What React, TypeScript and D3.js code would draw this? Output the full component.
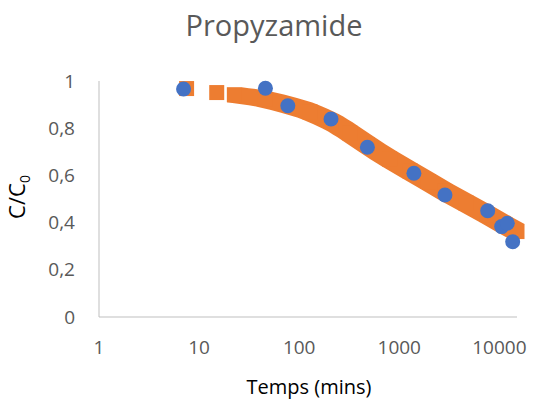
import * as d3 from "d3";

// modele (carres orange) et mesures (points bleus)
const modelTime = [
  7.5, 15, 22.5, 46, 80, 128, 208, 320, 475, 800, 1280, 1940, 2860, 4640, 7500,
  11400, 15000,
];
const modelValue = [
  0.968, 0.951, 0.942, 0.922, 0.896, 0.869, 0.828, 0.78, 0.731, 0.669, 0.619,
  0.574, 0.532, 0.483, 0.434, 0.39, 0.362,
];

const measTime = [7, 46, 77, 208, 480, 1400, 2860, 7640, 10540, 12000, 13580];
const measValue = [0.966, 0.969, 0.895, 0.839, 0.719, 0.609, 0.517, 0.45, 0.383, 0.397, 0.319];

const xTicks = [1, 10, 100, 1000, 10000];
const yTicks = [0, 0.2, 0.4, 0.6, 0.8, 1];

const width = 533;
const height = 405;
const font = "'Open Sans', sans-serif";

export default function App() {
  const x = d3.scaleLog().domain([1, 15000]).range([99, 517]);
  const y = d3.scaleLinear().domain([0, 1]).range([317, 81]);

  const model = modelTime.map((t, i) => ({ t, c: modelValue[i] }));
  const meas = measTime.map((t, i) => ({ t, c: measValue[i] }));

  const h = 7.5;
  // bande dense : les carres se chevauchent a partir de 22,5 min
  const band = d3
    .area<{ t: number; c: number }>()
    .x0((d) => x(d.t) - h)
    .x1((d) => x(d.t) + h)
    .y0((d) => y(d.c) + h)
    .y1((d) => y(d.c) - h)
    .curve(d3.curveMonotoneX);

  const fmt = (v: number) => String(v).replace(".", ",");

  return (
    <svg
      width={width}
      height={height}
      style={{ position: "absolute", left: 0, top: 0, background: "#fff" }}
    >
      <text
        x={274}
        y={36}
        textAnchor="middle"
        fontFamily={font}
        fontSize={29}
        fill="#595959"
      >
        Propyzamide
      </text>

      {/* axes */}
      <line x1={99} x2={99} y1={y(1)} y2={y(0)} stroke="#bfbfbf" strokeWidth={1} />
      <line x1={99} x2={517} y1={y(0)} y2={y(0)} stroke="#bfbfbf" strokeWidth={1} />

      {yTicks.map((v) => (
        <text
          key={v}
          x={75}
          y={y(v)}
          dy="0.35em"
          textAnchor="end"
          fontFamily={font}
          fontSize={19}
          fill="#595959"
        >
          {fmt(v)}
        </text>
      ))}
      {xTicks.map((v) => (
        <text
          key={v}
          x={x(v)}
          y={354}
          textAnchor="middle"
          fontFamily={font}
          fontSize={19}
          fill="#595959"
        >
          {v}
        </text>
      ))}

      <text
        x={309}
        y={394}
        textAnchor="middle"
        fontFamily={font}
        fontSize={20}
        fill="#000"
      >
        Temps (mins)
      </text>
      <text
        transform="translate(25,197) rotate(-90)"
        textAnchor="middle"
        fontFamily={font}
        fontSize={22}
        fill="#000"
      >
        C/C
        <tspan fontSize={14} dy={5}>
          0
        </tspan>
      </text>

      {/* modele */}
      <path d={band(model.filter((d) => d.t >= 22.5)) ?? ""} fill="#ED7D31" />
      {model.map((d, i) => (
        <rect
          key={i}
          x={x(d.t) - h}
          y={y(d.c) - h}
          width={2 * h}
          height={2 * h}
          fill="#ED7D31"
        />
      ))}

      {/* mesures */}
      {meas.map((d, i) => (
        <circle key={i} cx={x(d.t)} cy={y(d.c)} r={7.5} fill="#4472C4" />
      ))}
    </svg>
  );
}
